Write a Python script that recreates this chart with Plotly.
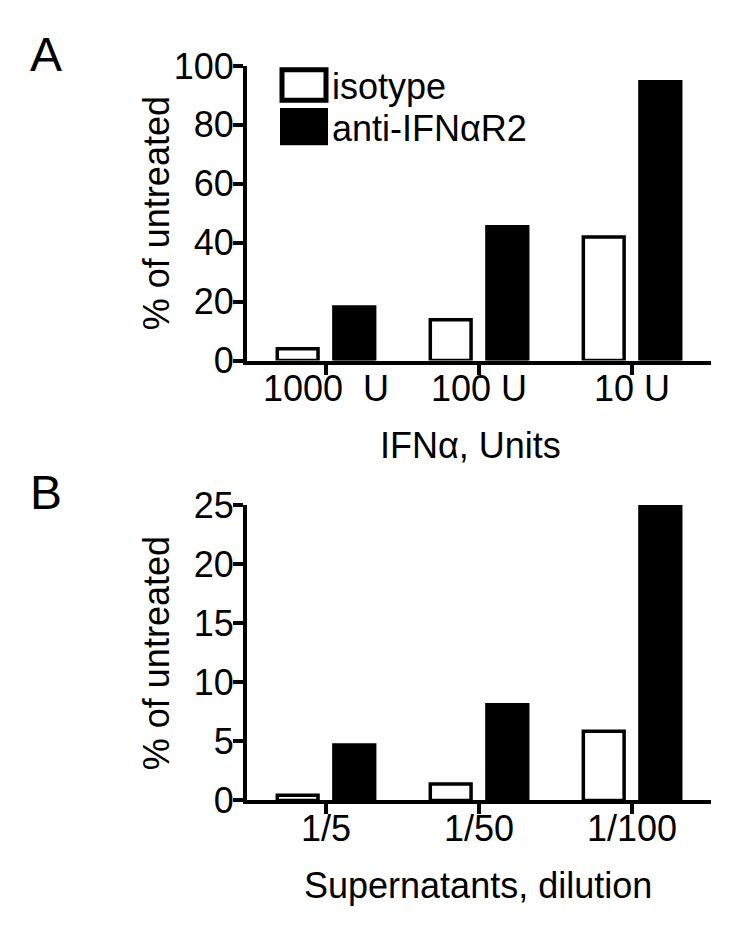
import plotly.graph_objects as go

FONT = "Liberation Sans, Arial, Helvetica, sans-serif"

# panel A
doses = ["1000\u00a0\u00a0U", "100 U", "10 U"]
isotype_a = [4.0, 13.8, 41.9]
anti_a = [18.2, 45.4, 94.6]

# panel B
dilutions = ["1/5", "1/50", "1/100"]
isotype_b = [0.45, 1.4, 5.85]
anti_b = [4.7, 8.1, 25.0]

W, H = 744, 942


def px_x(x):
    return x / W


def px_y(y):
    return 1 - y / H


fig = go.Figure()

for xs, iso, anti, xa, ya in [
    (doses, isotype_a, anti_a, "x", "y"),
    (dilutions, isotype_b, anti_b, "x2", "y2"),
]:
    fig.add_trace(go.Bar(
        x=xs, y=iso, name="isotype", xaxis=xa, yaxis=ya,
        marker=dict(color="white", line=dict(color="black", width=3.5)),
        showlegend=False,
    ))
    fig.add_trace(go.Bar(
        x=xs, y=anti, name="anti-IFN\u03b1R2", xaxis=xa, yaxis=ya,
        marker=dict(color="black", line=dict(color="black", width=3.5)),
        showlegend=False,
    ))

axis_common = dict(
    showline=True, linecolor="black", linewidth=4,
    ticks="outside", ticklen=10, tickwidth=4, tickcolor="black",
    showgrid=False, zeroline=False,
    tickfont=dict(family=FONT, size=36, color="black"),
)

x_dom = [px_x(247), px_x(711)]

fig.update_layout(
    width=W, height=H,
    plot_bgcolor="white", paper_bgcolor="white",
    margin=dict(l=0, r=0, t=0, b=0),
    barmode="group", bargap=0.26, bargroupgap=0.28,
    font=dict(family=FONT, color="black"),
    xaxis=dict(**axis_common, domain=x_dom, anchor="y", range=[-0.516, 2.516],
               ticklabelstandoff=-17),
    yaxis=dict(**axis_common, domain=[px_y(356), px_y(48)], anchor="x",
               range=[0, 100], tickvals=[0, 20, 40, 60, 80, 100],
               ticklabelstandoff=-8),
    xaxis2=dict(**axis_common, domain=x_dom, anchor="y2", range=[-0.516, 2.516],
                ticklabelstandoff=-17),
    yaxis2=dict(**axis_common, domain=[px_y(816), px_y(507)], anchor="x2",
                range=[0, 25], tickvals=[0, 5, 10, 15, 20, 25],
                ticklabelstandoff=-8),
)

annots = [
    dict(text="A", x=px_x(46), y=px_y(36), size=48),
    dict(text="B", x=px_x(46), y=px_y(494), size=48),
    dict(text="% of untreated", x=px_x(156), y=px_y(202), size=36, angle=-90),
    dict(text="% of untreated", x=px_x(156), y=px_y(662), size=36, angle=-90),
    dict(text="IFN\u03b1, Units", x=px_x(470), y=px_y(445), size=36),
    dict(text="Supernatants, dilution", x=px_x(478), y=px_y(905), size=36),
]
for a in annots:
    fig.add_annotation(
        text=a["text"], x=a["x"], y=a["y"], xref="paper", yref="paper",
        xanchor="center", yanchor="middle", showarrow=False,
        textangle=a.get("angle", 0),
        font=dict(family=FONT, size=a["size"], color="black"),
    )

# legend drawn by hand so the swatches can be large
fig.add_shape(type="rect", xref="paper", yref="paper",
              x0=px_x(282), x1=px_x(326), y0=px_y(84), y1=px_y(52),
              fillcolor="white", line=dict(color="black", width=5))
fig.add_shape(type="rect", xref="paper", yref="paper",
              x0=px_x(280), x1=px_x(328), y0=px_y(131), y1=px_y(92),
              fillcolor="black", line=dict(color="black", width=0))
for label, yc in [("isotype", 70), ("anti-IFN\u03b1R2", 113)]:
    fig.add_annotation(
        text=label, x=px_x(330), y=px_y(yc), xref="paper", yref="paper",
        xanchor="left", yanchor="middle", showarrow=False,
        font=dict(family=FONT, size=36, color="black"),
    )

# drop the default 8px page margin so the figure sits at the window origin
fig.write_html(
    "out.html",
    config={"displayModeBar": False},
    post_script="document.body.style.margin='0px';",
)
